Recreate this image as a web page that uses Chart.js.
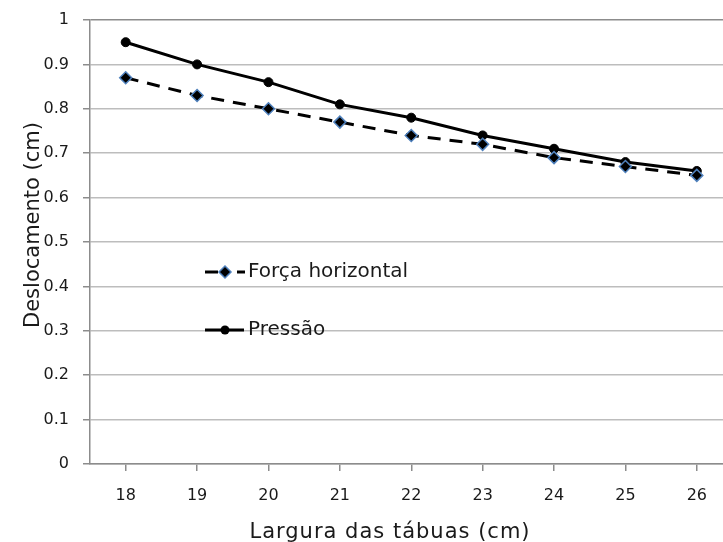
<!DOCTYPE html>
<html><head><meta charset="utf-8">
<script src="https://cdn.jsdelivr.net/npm/chart.js@4"></script>
<style>html,body{margin:0;padding:0;overflow:hidden;background:#fff}#wrap{position:absolute;left:0;top:0;width:740px;height:542px}</style>
</head><body><div id="wrap"><canvas id="c" width="740" height="542"></canvas></div>
<script>
const categories = ['18','19','20','21','22','23','24','25','26'];
const forcaHorizontal = [0.87,0.83,0.80,0.77,0.74,0.72,0.69,0.67,0.65];
const pressao = [0.95,0.90,0.86,0.81,0.78,0.74,0.71,0.68,0.66];
const yTickLabels = ['0','0.1','0.2','0.3','0.4','0.5','0.6','0.7','0.8','0.9','1'];
const seriesNames = ['Força horizontal','Pressão'];
const xTitle = 'Largura das tábuas (cm)';
const yTitle = 'Deslocamento (cm)';

const FONT = 'DejaVu Sans';
const TEXT = '#1a1a1a';
const decorPlugin = {
  id: 'decor',
  afterDraw(chart) {
    const ctx = chart.ctx, a = chart.chartArea;
    ctx.save();
    ctx.fillStyle = TEXT;
    ctx.font = '21px "' + FONT + '"';
    ctx.textAlign = 'center'; ctx.textBaseline = 'alphabetic';
    try { ctx.letterSpacing = '1px'; } catch(e) {}
    ctx.fillText(xTitle, a.left + 300, chart.height - 4);
    try { ctx.letterSpacing = '0px'; } catch(e) {}
    ctx.save();
    ctx.translate(a.left - 51, a.top + 205);
    ctx.rotate(-Math.PI/2);
    ctx.fillText(yTitle, 0, 0);
    ctx.restore();
    const items = [
      {name: seriesNames[0], y: a.top + 252, marker: 'diamond', segs: [[115,128],[147,155]]},
      {name: seriesNames[1], y: a.top + 310, marker: 'circle', segs: [[115,154]]}
    ];
    const xm = a.left + 135;
    items.forEach(it => {
      ctx.strokeStyle = '#000'; ctx.lineWidth = 3;
      it.segs.forEach(s => { ctx.beginPath(); ctx.moveTo(a.left + s[0], it.y); ctx.lineTo(a.left + s[1], it.y); ctx.stroke(); });
      if (it.marker === 'diamond') {
        ctx.fillStyle = '#000'; ctx.strokeStyle = '#4f81bd'; ctx.lineWidth = 1.5;
        ctx.beginPath(); ctx.moveTo(xm, it.y-6); ctx.lineTo(xm+6, it.y); ctx.lineTo(xm, it.y+6); ctx.lineTo(xm-6, it.y); ctx.closePath();
        ctx.fill(); ctx.stroke();
      } else {
        ctx.fillStyle = '#000';
        ctx.beginPath(); ctx.arc(xm, it.y, 4.5, 0, Math.PI*2); ctx.fill();
      }
      ctx.fillStyle = TEXT; ctx.font = '20px "' + FONT + '"'; ctx.textBaseline = 'middle'; ctx.textAlign = 'left';
      ctx.fillText(it.name, a.left + 158, it.y);
    });
    ctx.restore();
  }
};

new Chart(document.getElementById('c'), {
  type: 'line',
  data: {
    labels: categories,
    datasets: [
      {label: seriesNames[0], data: forcaHorizontal, borderColor:'#000', borderWidth:3, borderDash:[13,9],
       pointStyle:'rectRot', pointRadius:6, pointBackgroundColor:'#000', pointBorderColor:'#4f81bd', pointBorderWidth:1.5, tension:0, fill:false},
      {label: seriesNames[1], data: pressao, borderColor:'#000', borderWidth:3,
       pointStyle:'circle', pointRadius:4.5, pointBackgroundColor:'#000', pointBorderColor:'#000', pointBorderWidth:1, tension:0, fill:false}
    ]
  },
  options: {
    responsive:false, animation:false, devicePixelRatio:1,
    layout:{padding:{top:20, right:4, left:0, bottom:0}},
    plugins:{legend:{display:false}, tooltip:{enabled:false}},
    scales:{
      x:{
        offset:true,
        grid:{offset:false, drawOnChartArea:false, drawTicks:true, tickLength:7, tickColor:'#8c8c8c', lineWidth:1.5},
        border:{color:'#8c8c8c', width:1.5},
        ticks:{color:TEXT, font:{family:FONT, size:16}, padding:15, maxRotation:0},
        afterFit(s){ s.height = 78; s.paddingLeft = 0; s.paddingRight = 0; }
      },
      y:{
        min:0, max:1,
        ticks:{stepSize:0.1, color:TEXT, font:{family:FONT, size:16}, padding:14,
          callback:(v)=> yTickLabels[Math.round(v*10)]},
        grid:{color:(c)=> c.tick && c.tick.value===1 ? '#8c8c8c' : '#bdbdbd', lineWidth:1.5, tickLength:7, tickColor:'#8c8c8c'},
        border:{color:'#8c8c8c', width:1.5},
        afterFit(s){ s.width = 90; s.paddingTop = 0; s.paddingBottom = 0; }
      }
    }
  },
  plugins:[decorPlugin]
});
</script></body></html>
